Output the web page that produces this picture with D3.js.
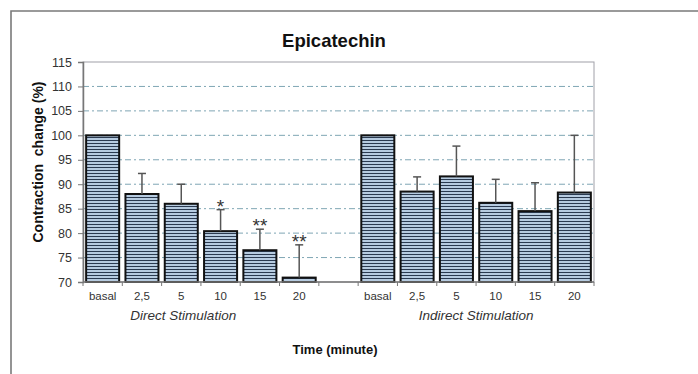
<!DOCTYPE html>
<html>
<head>
<meta charset="utf-8">
<script src="https://cdn.jsdelivr.net/npm/d3@7"></script>
<style>
  body { margin: 0; background: #fff; }
  svg { display: block; font-family: Arial, "Liberation Sans", sans-serif; }
</style>
</head>
<body>
<div id="chart"></div>
<script>
// categories (empty slot separates the two groups)
const categories = ["d0", "d1", "d2", "d3", "d4", "d5", "gap", "i0", "i1", "i2", "i3", "i4", "i5"];
const tickLabels = ["basal", "2,5", "5", "10", "15", "20", "", "basal", "2,5", "5", "10", "15", "20"];
const means = [100, 88, 86, 80.4, 76.5, 70.9, null, 100, 88.5, 91.6, 86.2, 84.5, 88.3];
const errTops = [null, 92.2, 90, 84.8, 80.8, 77.6, null, null, 91.5, 97.8, 91, 90.3, 100];
const stars = ["", "", "", "*", "**", "**", "", "", "", "", "", "", ""];
const yTicks = [70, 75, 80, 85, 90, 95, 100, 105, 110, 115];

const W = 698, H = 374;
const plot = { left: 83, top: 62, right: 594, bottom: 282 };

const svg = d3.select("#chart").append("svg")
    .attr("width", W)
    .attr("height", H);

// striped fill pattern
const pat = svg.append("defs").append("pattern")
    .attr("id", "stripes")
    .attr("patternUnits", "userSpaceOnUse")
    .attr("width", 8).attr("height", 3);
pat.append("rect").attr("width", 8).attr("height", 3).attr("fill", "#b6cbe0");
pat.append("rect").attr("y", 2).attr("width", 8).attr("height", 1).attr("fill", "#2a3a50");

// outer frame (top and left edges)
svg.append("path")
    .attr("d", `M11,${H} L11,11 L${W},11`)
    .attr("fill", "none")
    .attr("stroke", "#7a7a7a")
    .attr("stroke-width", 1.6);

const x = d3.scaleBand()
    .domain(categories)
    .range([plot.left, plot.right])
    .paddingInner(0.16)
    .paddingOuter(0.08);

const y = d3.scaleLinear()
    .domain([70, 115])
    .range([plot.bottom, plot.top]);

// gridlines
svg.append("g")
    .selectAll("line")
    .data(yTicks.filter(d => d > 70 && d < 115))
    .join("line")
    .attr("x1", plot.left).attr("x2", plot.right)
    .attr("y1", d => y(d)).attr("y2", d => y(d))
    .attr("stroke", "#7fa6b4")
    .attr("stroke-width", 1)
    .attr("stroke-dasharray", "6,3,2,3");

// plot border
svg.append("rect")
    .attr("x", plot.left).attr("y", plot.top)
    .attr("width", plot.right - plot.left)
    .attr("height", plot.bottom - plot.top)
    .attr("fill", "none")
    .attr("stroke", "#a0a0a8")
    .attr("stroke-width", 1);

// bars
const idx = categories.map((c, i) => i).filter(i => means[i] != null);
svg.append("g")
    .selectAll("rect")
    .data(idx)
    .join("rect")
    .attr("x", i => x(categories[i]))
    .attr("y", i => y(means[i]))
    .attr("width", x.bandwidth())
    .attr("height", i => y(70) - y(means[i]))
    .attr("fill", "url(#stripes)")
    .attr("stroke", "#111")
    .attr("stroke-width", 2);

// error bars
const errIdx = idx.filter(i => errTops[i] != null);
const eb = svg.append("g").attr("stroke", "#555").attr("stroke-width", 1.5);
eb.selectAll("line.v")
    .data(errIdx)
    .join("line")
    .attr("class", "v")
    .attr("x1", i => x(categories[i]) + x.bandwidth() / 2)
    .attr("x2", i => x(categories[i]) + x.bandwidth() / 2)
    .attr("y1", i => y(means[i]))
    .attr("y2", i => y(errTops[i]));
eb.selectAll("line.c")
    .data(errIdx)
    .join("line")
    .attr("class", "c")
    .attr("x1", i => x(categories[i]) + x.bandwidth() / 2 - 4)
    .attr("x2", i => x(categories[i]) + x.bandwidth() / 2 + 4)
    .attr("y1", i => y(errTops[i]))
    .attr("y2", i => y(errTops[i]));

// significance stars
svg.append("g")
    .selectAll("text")
    .data(idx.filter(i => stars[i]))
    .join("text")
    .attr("x", i => x(categories[i]) + x.bandwidth() / 2)
    .attr("y", i => y(errTops[i]) + 3)
    .attr("text-anchor", "middle")
    .attr("font-size", 19)
    .attr("fill", "#333")
    .text(i => stars[i]);

// y axis
const yAxis = svg.append("g")
    .attr("transform", `translate(${plot.left},0)`)
    .call(d3.axisLeft(y).tickValues(yTicks).tickSize(5).tickPadding(6));
yAxis.select(".domain").attr("stroke", "#777").attr("stroke-width", 1.5);
yAxis.selectAll(".tick line").attr("stroke", "#777");
yAxis.selectAll(".tick text")
    .attr("font-size", 12.5)
    .attr("fill", "#333")
    .attr("font-family", "Arial, 'Liberation Sans', sans-serif");

// x axis (ticks at category boundaries)
const step = x.step();
const xAxis = svg.append("g")
    .attr("transform", `translate(0,${plot.bottom})`);
xAxis.append("line")
    .attr("x1", plot.left).attr("x2", plot.right)
    .attr("stroke", "#777").attr("stroke-width", 1.5);
xAxis.selectAll("line.tk")
    .data(d3.range(categories.length + 1))
    .join("line")
    .attr("class", "tk")
    .attr("x1", i => plot.left + i * step)
    .attr("x2", i => plot.left + i * step)
    .attr("y1", 0).attr("y2", 4)
    .attr("stroke", "#777");
xAxis.selectAll("text")
    .data(categories)
    .join("text")
    .attr("x", c => x(c) + x.bandwidth() / 2)
    .attr("y", 18)
    .attr("text-anchor", "middle")
    .attr("font-size", 11.5)
    .attr("fill", "#333")
    .text((c, i) => tickLabels[i]);

// group labels
svg.append("text")
    .attr("x", x("d2") + x.bandwidth() / 2 + 2)
    .attr("y", plot.bottom + 38)
    .attr("text-anchor", "middle")
    .attr("font-size", 13.5)
    .attr("font-style", "italic")
    .attr("fill", "#333")
    .text("Direct Stimulation");
svg.append("text")
    .attr("x", x("i2") + x.bandwidth() + x.step() * x.paddingInner() / 2)
    .attr("y", plot.bottom + 38)
    .attr("text-anchor", "middle")
    .attr("font-size", 13.5)
    .attr("font-style", "italic")
    .attr("fill", "#333")
    .text("Indirect Stimulation");

// title
svg.append("text")
    .attr("x", 334)
    .attr("y", 47)
    .attr("text-anchor", "middle")
    .attr("font-size", 18.5)
    .attr("font-weight", "bold")
    .attr("fill", "#111")
    .text("Epicatechin");

// axis titles
svg.append("text")
    .attr("x", 335)
    .attr("y", 354)
    .attr("text-anchor", "middle")
    .attr("font-size", 13)
    .attr("font-weight", "bold")
    .attr("fill", "#111")
    .text("Time (minute)");

svg.append("text")
    .attr("transform", "translate(43,162) rotate(-90)")
    .attr("text-anchor", "middle")
    .attr("font-size", 14)
    .attr("font-weight", "bold")
    .attr("fill", "#111")
    .attr("xml:space", "preserve")
    .text("Contraction  change (%)");
</script>
</body>
</html>
